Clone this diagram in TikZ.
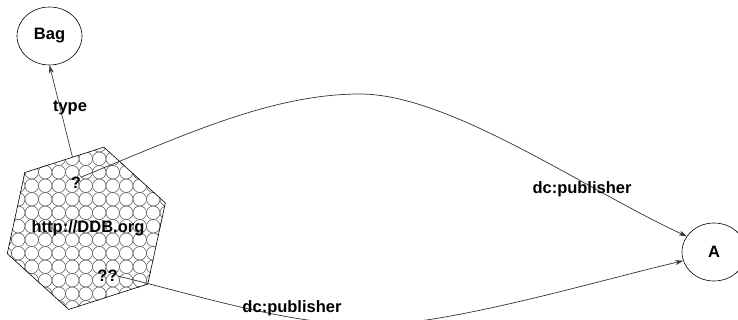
\documentclass[tikz,border=0pt]{standalone}
\usepackage{fontspec}
\setmainfont{Liberation Sans}
\usetikzlibrary{shapes.geometric,arrows.meta,backgrounds}
\tikzset{
  lbl/.style={font=\fontsize{16.5}{18}\selectfont\bfseries, inner sep=0pt},
  res/.style={ellipse, draw, line width=0.6pt, font=\fontsize{16.5}{18}\selectfont\bfseries, inner sep=0pt},
  hexshape/.style={regular polygon, regular polygon sides=6, minimum size=166pt, inner sep=0pt,
     shape border rotate=17.8, draw, line width=0.6pt},
  patcircle/.style={draw=black!65, line width=0.5pt},
  rel/.style={draw=black!80, line width=0.7pt, -{Stealth[length=8pt,width=5pt]}}
}
\begin{document}
\begin{tikzpicture}[x=1pt,y=-1pt]
\path[use as bounding box, clip] (0,0) rectangle (738,320);
% nodes
\node[res, minimum width=65pt, minimum height=58pt] (bag) at (49.5,36) {Bag};
\node[res, minimum width=64pt, minimum height=58pt] (A) at (714,252) {A};
\node[hexshape] (hex) at (86.3,228.3) {};
\begin{scope}[on background layer]
  \fill[white] (0,0) rectangle (738,320);
  \clip (hex.corner 1) -- (hex.corner 2) -- (hex.corner 3) -- (hex.corner 4) -- (hex.corner 5) -- (hex.corner 6) -- cycle;
  \foreach \i in {-5,...,9} {
    \foreach \j in {-6,...,8} {
      \draw[patcircle] ({58.75+13.5*\i},{212.75+13.5*\j}) circle[radius=6.75pt];
    }
  }
\end{scope}
\node[lbl] (ddb) at (88,228) {http://DDB.org};
\node[lbl] (q1) at (76,183) {?};
\node[lbl] (q2) at (107.5,276) {??};
\coordinate (m1) at (360,94);
\coordinate (m2) at (370,325);
% connectors
\draw[rel] (hex.101) -- (bag.270);
\draw[rel] (q1.north east) .. controls (180,137) and (270,94) .. (m1)
   .. controls (450,94) and (586,190) .. (A.150);
\draw[rel] (q2.east) .. controls (200,296) and (290,325) .. (m2)
   .. controls (450,325) and (600,280) .. (A.196);
% edge labels
\node[lbl] (ltype) at (70,108) {type};
\node[lbl] (lpub1) at (582,189) {dc:publisher};
\node[lbl] (lpub2) at (292,308) {dc:publisher};
\end{tikzpicture}
\end{document}
